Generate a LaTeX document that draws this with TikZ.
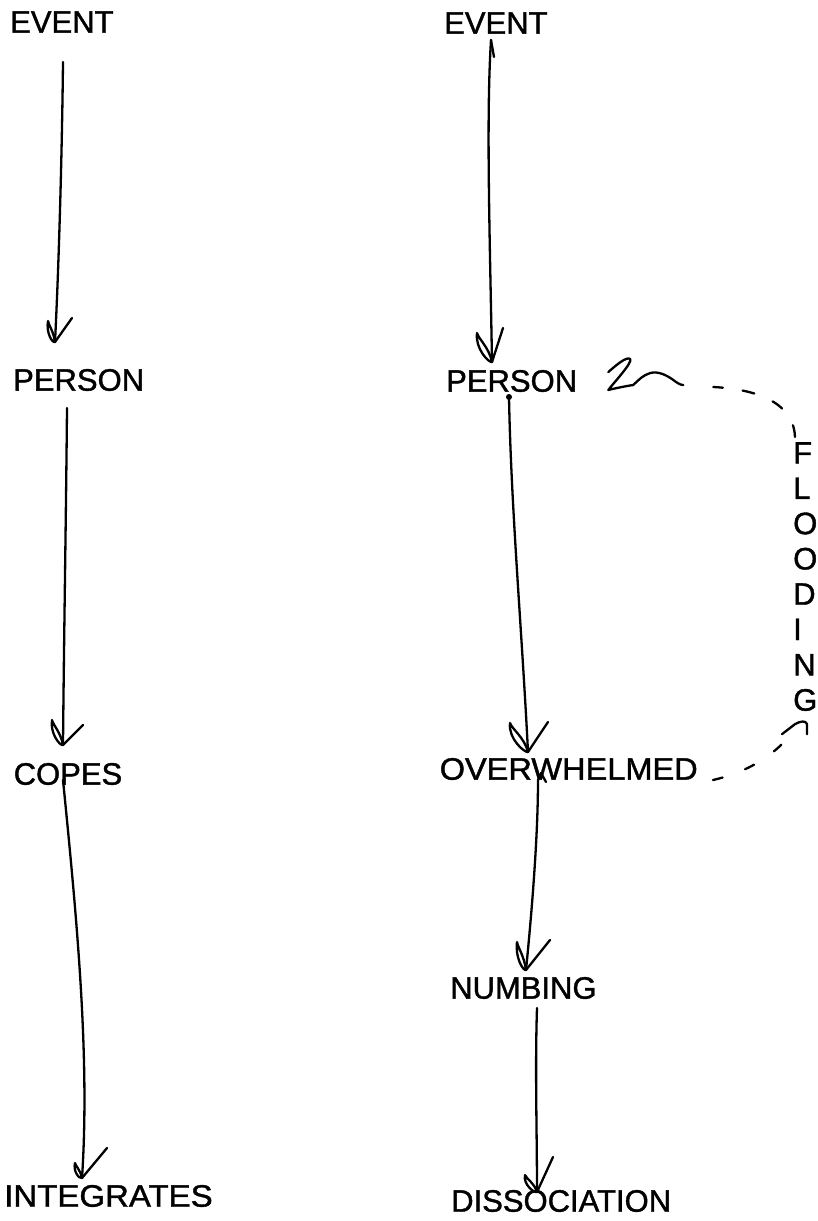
\documentclass[tikz,border=0pt]{standalone}
\usepackage{fontspec}
\usepackage{graphicx}
\setmainfont{Liberation Sans}[FakeBold=1.2]
\usetikzlibrary{calc}

% hand-drawn open arrowhead: #1 tip, (#2,#3) start of left stroke, (#4,#5) start of right stroke
\newcommand\vtip[5]{%
  \begin{scope}[shift={(#1)}]
    \draw[hand] (#2,#3) .. controls ({(#2)-2},{0.45*(#3)}) and (-3,1) .. (0,0)
      .. controls ({0.2*(#2)},{0.5*(#3)}) and ({0.9*(#2)},{0.8*(#3)}) .. (#2,#3);
    \draw[hand] (0,0) -- (#4,#5);
  \end{scope}}

\begin{document}
\begin{tikzpicture}[x=1pt,y=-1pt,
  lbl/.style={inner sep=0pt, anchor=west, font=\fontsize{31}{35.3}\selectfont},
  hand/.style={line width=2.3pt, line cap=round, line join=round},
  flow/.style={hand, dash pattern=on 10pt off 24pt}]
\useasboundingbox (0,0) rectangle (817,1221);

% left column
\node[lbl] (e1) at (10,22) {EVENT};
\node[lbl] (p1) at (13,380) {PERSON};
\node[lbl] (c1) at (13.5,774) {COPES};
\node[lbl] (ig) at (4,1196) {\scalebox{1.065}[1]{INTEGRATES}};
% right column
\node[lbl] (e2) at (444,23) {EVENT};
\node[lbl] (p2) at (446,381) {PERSON};
\node[lbl] (ow) at (439.5,769) {\scalebox{1.05}[1]{OVERWHELMED}};
\node[lbl] (nb) at (450,988) {NUMBING};
\node[lbl] (ds) at (451,1201) {DISSOCIATION};
\node[lbl, anchor=north west, align=left] (fl) at (793,442) {F\\L\\O\\O\\D\\I\\N\\G};

% connector ends
\coordinate (s1) at ([shift={(53,40)}]e1.west);
\coordinate (t1) at ([shift={(42,-38)}]p1.west);
\coordinate (s2) at ([shift={(54,28)}]p1.west);
\coordinate (t2) at ([shift={(49.5,-29)}]c1.west);
\coordinate (s3) at ([shift={(49.5,6)}]c1.west);
\coordinate (t3) at ([shift={(78,-18)}]ig.west);
\coordinate (s4) at ([shift={(47,17)}]e2.west);
\coordinate (t4) at ([shift={(46,-19)}]p2.west);
\coordinate (s5) at ([shift={(63,16)}]p2.west);
\coordinate (t5) at ([shift={(88.5,-17)}]ow.west);
\coordinate (s6) at ([shift={(98.5,11)}]ow.west);
\coordinate (t6) at ([shift={(76,-18)}]nb.west);
\coordinate (s7) at ([shift={(87,20)}]nb.west);
\coordinate (t7) at ([shift={(86,-9)}]ds.west);

% left chain
\draw[hand] (s1) .. controls +(-1,90) and +(4,-80) .. (t1);
\vtip{t1}{-7}{-21}{17}{-24}
\draw[hand] (s2) .. controls +(-1,110) and +(1,-110) .. (t2);
\vtip{t2}{-11}{-25}{20}{-20}
\draw[hand] (s3) .. controls +(14,140) and +(8,-120) .. (t3);
\vtip{t3}{-7}{-15}{25}{-30}

% right chain
\draw[hand] (s4) -- +(3,17);
\draw[hand] (s4) .. controls +(-5,80) and +(-2,-120) .. (t4);
\vtip{t4}{-15}{-29}{11}{-34}
\fill (s5) circle[radius=3pt];
\draw[hand] (s5) .. controls +(2,110) and +(-6,-120) .. (t5);
\vtip{t5}{-18}{-29}{20}{-30}
\draw[hand] (s6) -- ++(3,-7) -- ++(5,9);
\draw[hand] (s6) .. controls +(0,60) and +(5,-50) .. (t6);
\vtip{t6}{-9}{-28}{24}{-30}
\draw[hand] (s7) .. controls +(-2,60) and +(0,-60) .. (t7);
\vtip{t7}{-12}{-17}{16}{-35}

% flooding loop
\coordinate (d1s) at ([shift={(15,11)}]ow.east);
\coordinate (d1e) at ([shift={(-3,24)}]fl.south west);
\coordinate (h1) at ([shift={(2,13)}]fl.south west);
\draw[flow] (d1s) .. controls +(27,-6) and +(-20,25) .. (d1e);
\begin{scope}[shift={(h1)}]
  \draw[hand] (-13,10) -- (0,0) .. controls (5,-3) and (11,-4) .. (12,0) -- (12,10);
\end{scope}

\coordinate (d2s) at ([shift={(2,-5)}]fl.north west);
\coordinate (d2e) at ([shift={(136,6)}]p2.east);
\coordinate (h2) at ([shift={(33,-1)}]p2.east);
\draw[flow, dash pattern=on 12pt off 20pt] (d2s) .. controls +(-1,-27) and +(57,3) .. (d2e);
\begin{scope}[shift={(h2)}]
  \draw[hand] (-2,-8) .. controls (5,-14) and (16,-24) .. (20,-21)
    .. controls (22,-17) and (4,2) .. (-2,10)
    .. controls (6,8) and (16,6) .. (23,5)
    .. controls (28,0) and (33,-5) .. (40,-7)
    .. controls (48,-9) and (56,-5) .. (63,0)
    .. controls (67,3) and (70,5) .. (73,5);
\end{scope}
\end{tikzpicture}
\end{document}
